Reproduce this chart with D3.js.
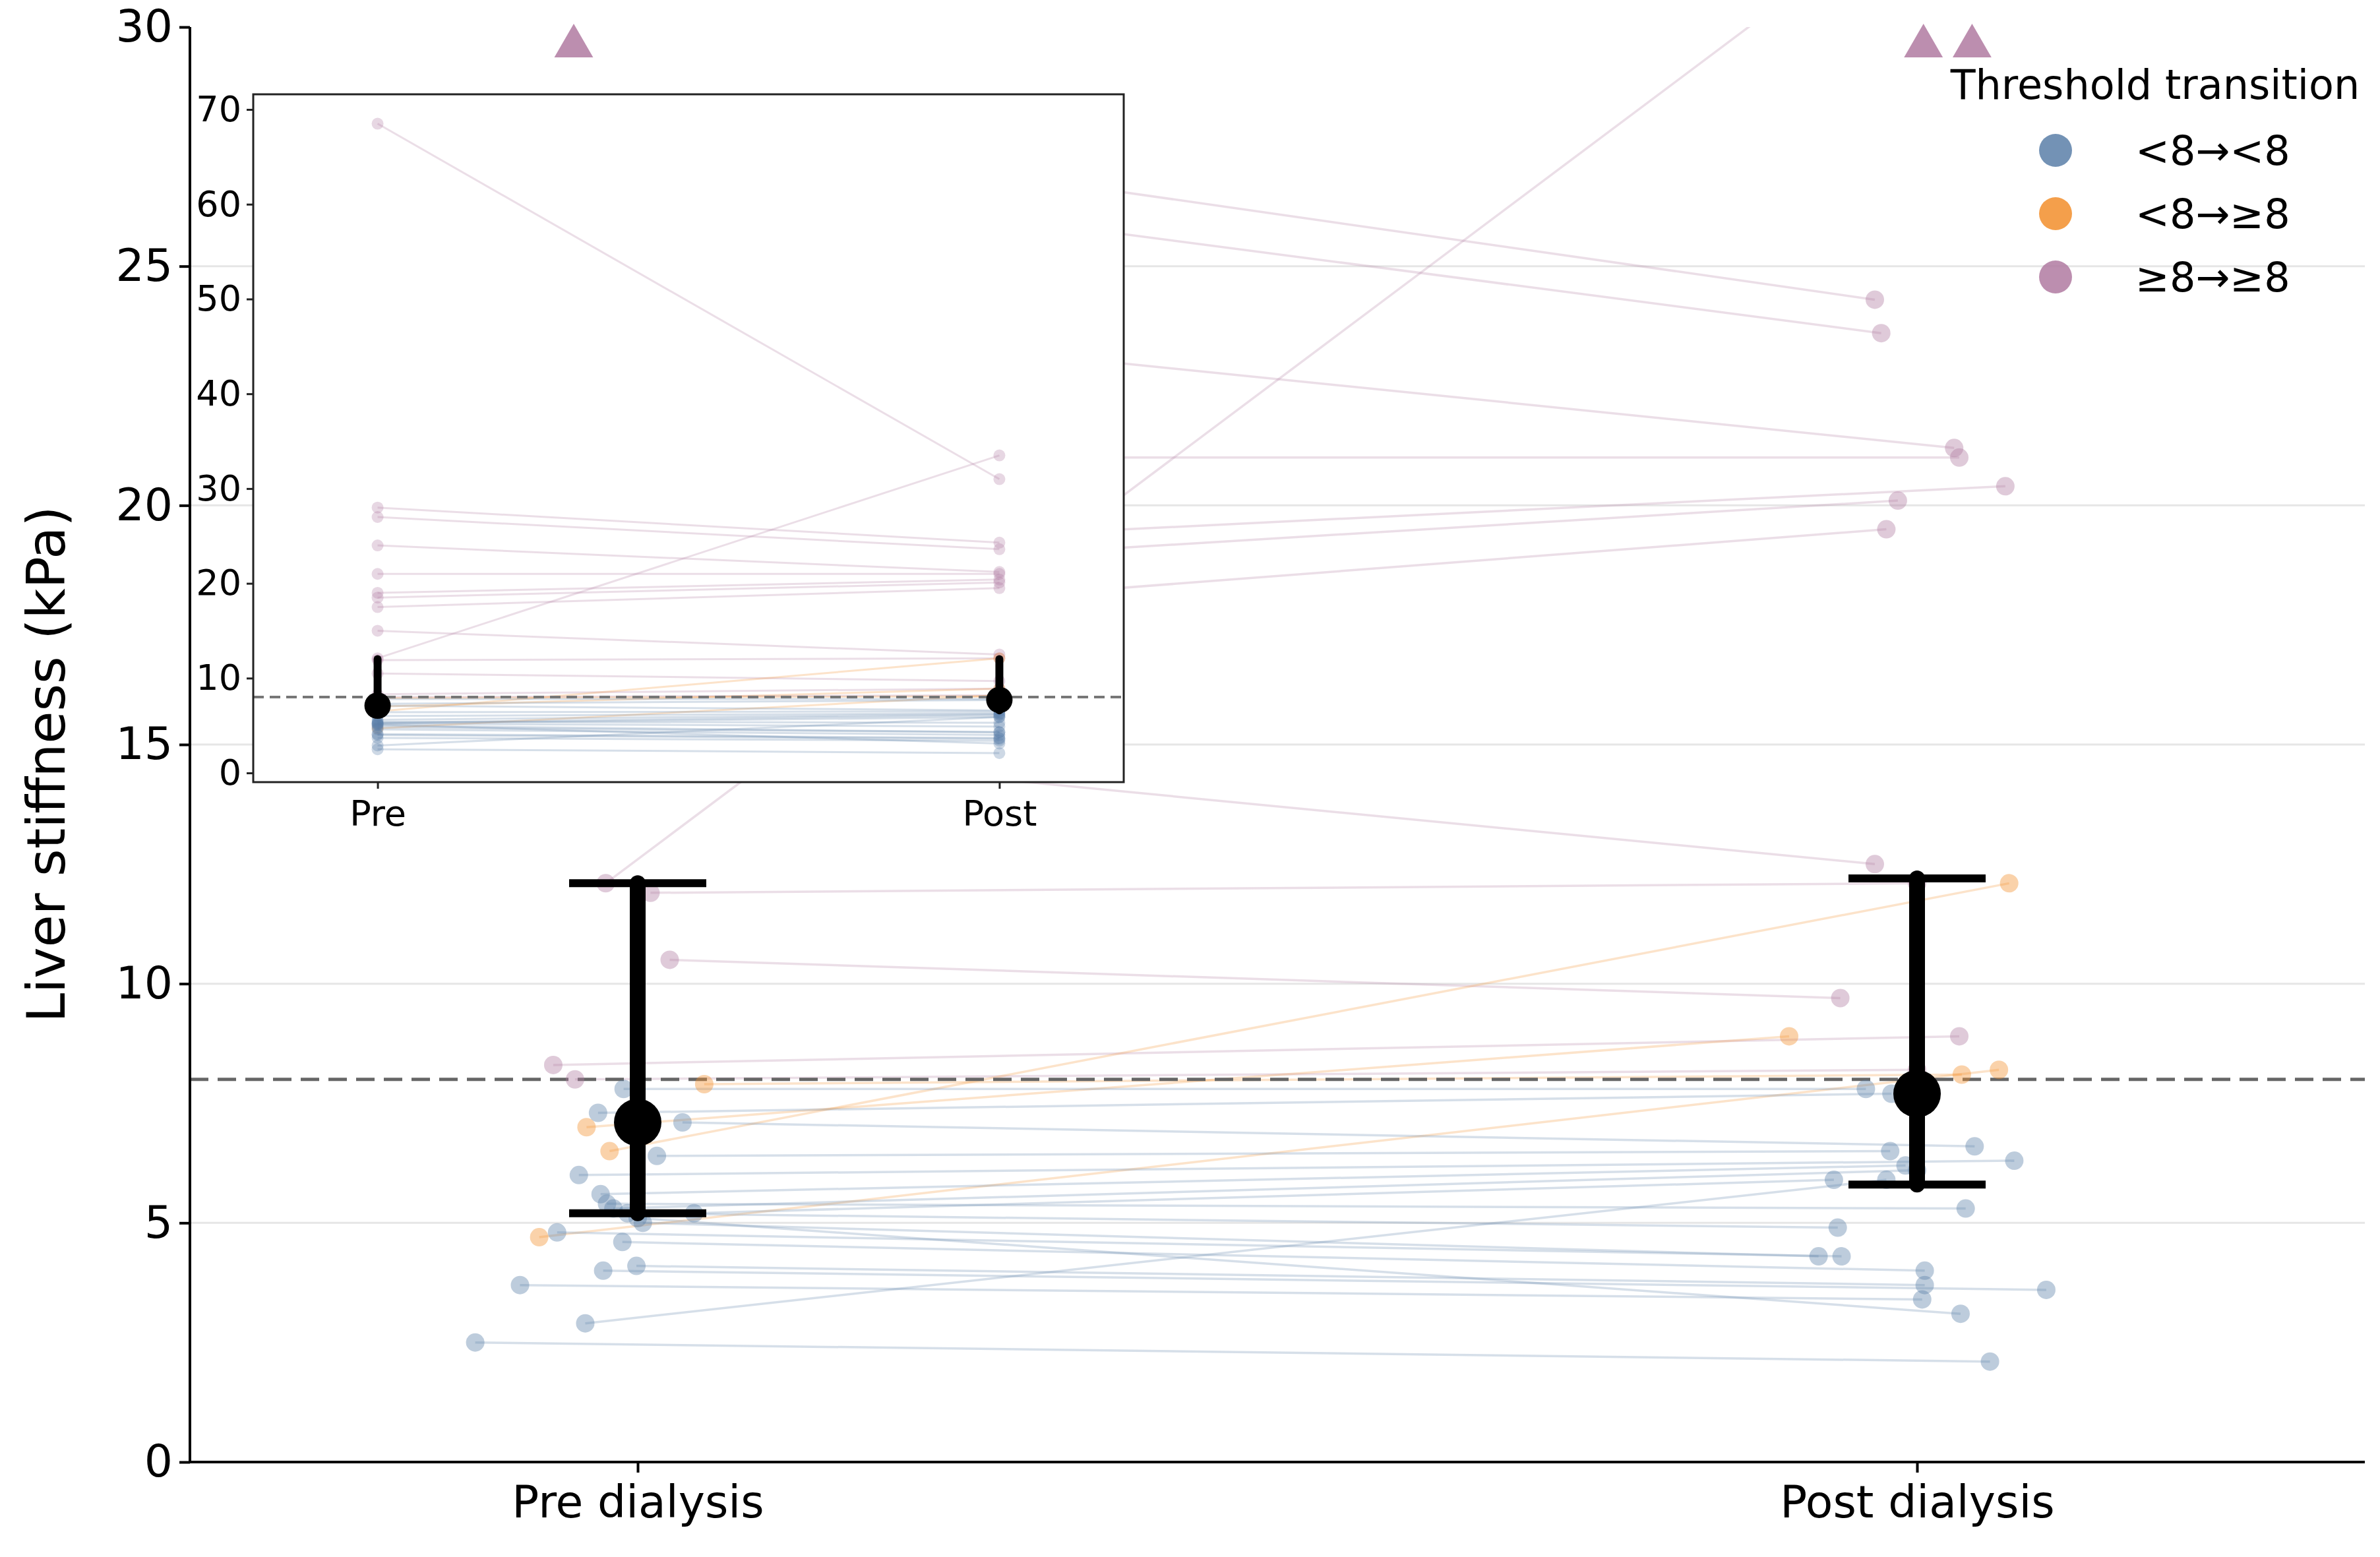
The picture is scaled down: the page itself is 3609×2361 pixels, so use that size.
<!DOCTYPE html>
<html><head><meta charset="utf-8">
<script src="https://cdn.jsdelivr.net/npm/d3@7"></script>
<style>body{margin:0;background:#fff}text{font-family:"DejaVu Sans",sans-serif}</style>
</head><body><svg id="c" width="3609" height="2361"></svg>
<script>
// Paired measurements: pre, post (kPa), horizontal jitter of pre / post (category units), group
const groups = ["<8→<8","<8→≥8","≥8→≥8"];
const groupColors = ["#5a7fa8","#f28e2b","#b07aa1"];
const preVals  = [68.5,12.1,28,27,24,21,19,18.5,17.5,15,11.9,10.5,8.3,8.0, 6.5,7.0,7.9,4.7,
  7.8,7.3,7.1,6.4,6.0,5.6,5.4,5.3,5.2,5.2,5.0,4.8,4.6,4.1,4.0,3.7,2.9,2.5,5.1];
const postVals = [31,33.5,24.3,23.6,21.2,21.0,20.4,20.1,19.5,12.5,12.1,9.7,8.9,8.2, 12.1,8.9,8.1,8.2,
  7.8,7.7,6.6,6.5,6.3,6.2,5.3,6.1,4.9,5.9,4.3,4.3,4.0,3.7,3.6,3.4,5.9,2.1,3.1];
const preJit  = [-0.05,-0.025,0,0,0,0,0,0,0,0,0.01,0.025,-0.066,-0.049, -0.022,-0.04,0.052,-0.077,
  -0.011,-0.031,0.035,0.015,-0.046,-0.029,-0.024,-0.019,-0.008,0.044,0.004,-0.063,-0.012,-0.001,-0.027,-0.092,-0.041,-0.127,0.0];
const postJit = [0.005,0.043,-0.033,-0.028,0.029,0.033,0.069,-0.015,-0.024,-0.033,0,-0.06,0.033,0, 0.072,-0.1,0.035,0.064,
  -0.04,-0.02,0.045,-0.021,0.076,-0.009,0.038,0,-0.062,-0.065,-0.077,-0.059,0.006,0.006,0.101,0.004,-0.024,0.057,0.034];
const groupIdx = [2,2,2,2,2,2,2,2,2,2,2,2,2,2, 1,1,1,1, 0,0,0,0,0,0,0,0,0,0,0,0,0,0,0,0,0,0,0];
const categories = ["Pre dialysis","Post dialysis"];
const insetCategories = ["Pre","Post"];
const means = [7.1, 7.7];
const ciLow = [5.2, 5.8];
const ciHigh = [12.1, 12.2];
const insetCiLow = [6.2, 6.6];
const insetCiHigh = [12.0, 12.0];
const mainTicks = [0,5,10,15,20,25,30];
const insetTicks = [0,10,20,30,40,50,60,70];
const threshold = 8;

const svg = d3.select("#c");
const M = {l:288, r:3586, t:41, b:2217};
const x = d3.scaleLinear().domain([-0.35,1.35]).range([M.l,M.r]);
const y = d3.scaleLinear().domain([0,30]).range([M.b,M.t]);
const data = preVals.map((p,i)=>({pre:p, post:postVals[i], jp:preJit[i], jq:postJit[i], g:groupIdx[i]}));

svg.append("defs").append("clipPath").attr("id","mc").append("rect")
  .attr("x",M.l).attr("y",M.t).attr("width",M.r-M.l).attr("height",M.b-M.t);
svg.append("g").selectAll("line").data([5,10,15,20,25]).join("line")
  .attr("x1",M.l).attr("x2",M.r).attr("y1",d=>y(d)).attr("y2",d=>y(d))
  .attr("stroke","#e6e6e6").attr("stroke-width",3);
const mg = svg.append("g").attr("clip-path","url(#mc)");
mg.selectAll("line.p").data(data).join("line")
  .attr("x1",d=>x(d.jp)).attr("x2",d=>x(1+d.jq)).attr("y1",d=>y(d.pre)).attr("y2",d=>y(d.post))
  .attr("stroke",d=>groupColors[d.g]).attr("stroke-opacity",0.25).attr("stroke-width",3.5);
mg.append("line").attr("x1",M.l).attr("x2",M.r).attr("y1",y(threshold)).attr("y2",y(threshold))
  .attr("stroke","#666").attr("stroke-width",5).attr("stroke-dasharray","28,14");
const pts = [];
data.forEach(d=>{pts.push({v:d.pre,j:d.jp,c:0,g:d.g});pts.push({v:d.post,j:1+d.jq,c:1,g:d.g});});
mg.selectAll("circle.pt").data(pts.filter(p=>p.v<=30)).join("circle")
  .attr("cx",d=>x(d.j)).attr("cy",d=>y(d.v)).attr("r",14)
  .attr("fill",d=>groupColors[d.g]).attr("fill-opacity",0.4);
svg.selectAll("path.tri").data(pts.filter(p=>p.v>30)).join("path")
  .attr("d",d3.symbol().type(d3.symbolTriangle).size(1500))
  .attr("transform",d=>`translate(${x(d.j)},${y(29.6)})`)
  .attr("fill",groupColors[2]).attr("fill-opacity",0.85);
[0,1].forEach(i=>{
  svg.append("line").attr("x1",x(i)).attr("x2",x(i)).attr("y1",y(ciLow[i])).attr("y2",y(ciHigh[i]))
    .attr("stroke","#000").attr("stroke-width",24).attr("stroke-linecap","round");
  [ciLow[i],ciHigh[i]].forEach(v=>svg.append("line").attr("x1",x(i)-104).attr("x2",x(i)+104)
    .attr("y1",y(v)).attr("y2",y(v)).attr("stroke","#000").attr("stroke-width",12));
  svg.append("circle").attr("cx",x(i)).attr("cy",y(means[i])).attr("r",36).attr("fill","#000");
});
const ya = svg.append("g").attr("transform",`translate(${M.l},0)`)
  .call(d3.axisLeft(y).tickValues(mainTicks).tickSize(16).tickPadding(10));
const xa = svg.append("g").attr("transform",`translate(0,${M.b})`)
  .call(d3.axisBottom(x).tickValues([0,1]).tickFormat((d,i)=>categories[i]).tickSize(16).tickPadding(20));
[ya,xa].forEach(a=>{a.selectAll("path,line").attr("stroke","#000").attr("stroke-width",4);
  a.selectAll("text").attr("font-size",68).attr("fill","#000");});
ya.select(".domain").attr("d",`M0,${M.t}V${M.b}`);
xa.select(".domain").attr("d",`M${M.l},0H${M.r}`);
svg.append("text").attr("transform",`translate(98,${(M.t+M.b)/2+30}) rotate(-90)`)
  .attr("text-anchor","middle").attr("font-size",80).text("Liver stiffness (kPa)");

const I = {l:384, r:1704, t:143, b:1186};
const ix = d3.scaleLinear().domain([-0.2,1.2]).range([I.l,I.r]);
const iy = d3.scaleLinear().domain([-0.97,71.6]).range([I.b,I.t]);
const ig = svg.append("g");
ig.append("rect").attr("x",I.l).attr("y",I.t).attr("width",I.r-I.l).attr("height",I.b-I.t).attr("fill","#fff");
ig.selectAll("line.p").data(data).join("line")
  .attr("x1",ix(0)).attr("x2",ix(1)).attr("y1",d=>iy(d.pre)).attr("y2",d=>iy(d.post))
  .attr("stroke",d=>groupColors[d.g]).attr("stroke-opacity",0.25).attr("stroke-width",3);
ig.selectAll("circle.pt").data(pts).join("circle")
  .attr("cx",d=>ix(d.c)).attr("cy",d=>iy(d.v)).attr("r",9)
  .attr("fill",d=>groupColors[d.g]).attr("fill-opacity",0.3);
ig.append("line").attr("x1",I.l).attr("x2",I.r).attr("y1",iy(threshold)).attr("y2",iy(threshold))
  .attr("stroke","#777").attr("stroke-width",4).attr("stroke-dasharray","16,9");
[0,1].forEach(i=>{
  ig.append("line").attr("x1",ix(i)).attr("x2",ix(i)).attr("y1",iy(insetCiLow[i])).attr("y2",iy(insetCiHigh[i]))
    .attr("stroke","#000").attr("stroke-width",12).attr("stroke-linecap","round");
  ig.append("circle").attr("cx",ix(i)).attr("cy",iy(means[i])).attr("r",20).attr("fill","#000");
});
ig.append("rect").attr("x",I.l).attr("y",I.t).attr("width",I.r-I.l).attr("height",I.b-I.t)
  .attr("fill","none").attr("stroke","#222").attr("stroke-width",3);
const iya = ig.append("g").attr("transform",`translate(${I.l},0)`)
  .call(d3.axisLeft(iy).tickValues(insetTicks).tickSize(10).tickPadding(8));
const ixa = ig.append("g").attr("transform",`translate(0,${I.b})`)
  .call(d3.axisBottom(ix).tickValues([0,1]).tickFormat((d,i)=>insetCategories[i]).tickSize(10).tickPadding(18));
[iya,ixa].forEach(a=>{a.select(".domain").remove();a.selectAll("line").attr("stroke","#222").attr("stroke-width",3);
  a.selectAll("text").attr("font-size",54).attr("fill","#000");});

const lg = svg.append("g");
lg.append("text").attr("x",3268).attr("y",150).attr("text-anchor","middle").attr("font-size",62).text("Threshold transition");
groups.forEach((g,i)=>{
  const yy = 228 + i*96;
  lg.append("circle").attr("cx",3117).attr("cy",yy).attr("r",25).attr("fill",groupColors[i]).attr("fill-opacity",0.85);
  lg.append("text").attr("x",3238).attr("y",yy+22).attr("font-size",62).text(g);
});
</script></body></html>
